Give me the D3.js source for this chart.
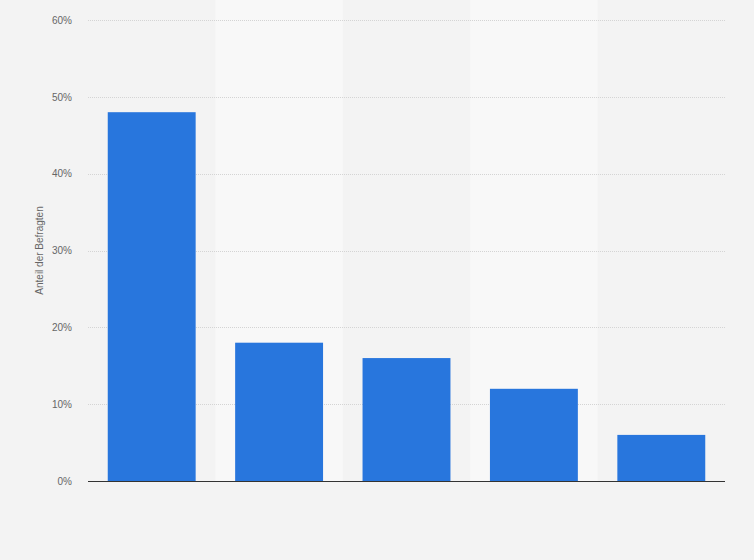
<!DOCTYPE html>
<html>
<head>
<meta charset="utf-8">
<script src="https://cdn.jsdelivr.net/npm/d3@7"></script>
<style>
  html, body { margin: 0; padding: 0; background: #f3f3f3; }
  svg { display: block; font-family: "Liberation Sans", Arial, sans-serif; }
  .ytick text { fill: #666; font-size: 10px; }
  .ylabel { fill: #666; font-size: 10px; }
</style>
</head>
<body>
<div id="chart"></div>
<script>
const w = 754;
const h = 560;
const margin = {top: 20, right: 29, bottom: 79, left: 88};

// data (category labels are not shown on the chart)
const categories = ["A", "B", "C", "D", "E"];
const shares = [48, 18, 16, 12, 6];
const yTicks = [0, 10, 20, 30, 40, 50, 60];

const svg = d3.select("#chart")
    .append("svg")
    .attr("width", w)
    .attr("height", h);

svg.append("rect")
    .attr("width", w)
    .attr("height", h)
    .attr("fill", "#f3f3f3");

const x = d3.scaleBand()
    .domain(categories)
    .range([margin.left, w - margin.right])
    .paddingInner(0.31)
    .paddingOuter(0.155);

const xBand = d3.scaleBand()
    .domain(categories)
    .range([margin.left, w - margin.right]);

const y = d3.scaleLinear()
    .domain([0, 60])
    .range([h - margin.bottom, margin.top]);

// lighter column bands on every second category
svg.append("g")
    .selectAll("rect")
    .data(categories.filter((d, i) => i % 2 == 1))
    .join("rect")
    .attr("x", d => xBand(d))
    .attr("y", 0)
    .attr("width", xBand.bandwidth())
    .attr("height", h - margin.bottom)
    .attr("fill", "#f8f8f8");

// grid lines
svg.append("g")
    .selectAll("line")
    .data(yTicks.filter(d => d > 0))
    .join("line")
    .attr("x1", margin.left)
    .attr("x2", w - margin.right)
    .attr("y1", d => Math.round(y(d)) + 0.5)
    .attr("y2", d => Math.round(y(d)) + 0.5)
    .attr("stroke", "#d4d4d4")
    .attr("stroke-dasharray", "1,1");

// y axis labels
const yAxis = svg.append("g")
    .attr("class", "ytick")
    .attr("transform", "translate(" + (margin.left - 16) + ",0)")
    .call(d3.axisLeft(y).tickValues(yTicks).tickFormat(d => d + "%").tickSize(0));
yAxis.select(".domain").remove();
yAxis.selectAll("text").attr("dy", "0.32em").attr("x", 0);

svg.append("text")
    .attr("class", "ylabel")
    .attr("text-anchor", "middle")
    .attr("transform", "rotate(-90)")
    .attr("x", -(margin.top + (h - margin.bottom - margin.top) / 2))
    .attr("y", 43)
    .text("Anteil der Befragten");

// bars
svg.append("g")
    .selectAll("rect")
    .data(shares)
    .join("rect")
    .attr("x", (d, i) => x(categories[i]))
    .attr("y", d => y(d))
    .attr("width", x.bandwidth())
    .attr("height", d => y(0) - y(d))
    .attr("fill", "#2876dd");

// baseline
svg.append("line")
    .attr("x1", margin.left)
    .attr("x2", w - margin.right)
    .attr("y1", y(0) + 0.5)
    .attr("y2", y(0) + 0.5)
    .attr("stroke", "#333")
    .attr("stroke-width", 1);
</script>
</body>
</html>
